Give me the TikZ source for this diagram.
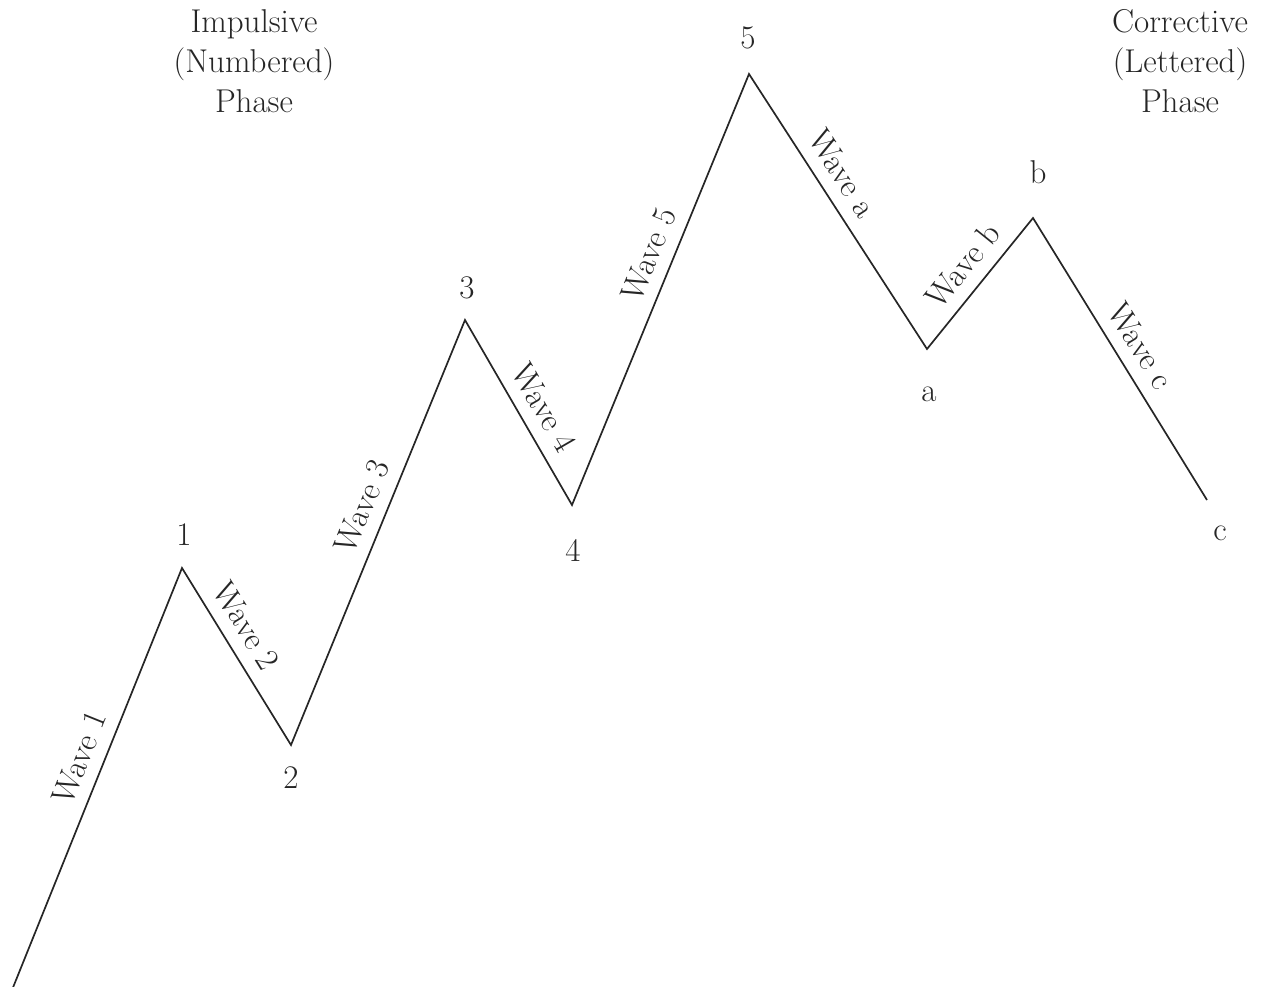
\documentclass[tikz,border=0pt]{standalone}
\begin{document}
\begin{tikzpicture}[x=1pt,y=-1pt,
  wave/.style={draw=black!85, line width=1.7pt, line join=miter},
  lbl/.style={font=\fontsize{33}{40}\selectfont, inner sep=0pt, text=black!85},
  wl/.style={lbl, sloped, above=13pt},
  title/.style={lbl, align=center, anchor=base}]
\useasboundingbox (0,0) rectangle (1272,987);
\coordinate (s) at (12,990);
\coordinate (p1) at (182,568);
\coordinate (p2) at (291,745);
\coordinate (p3) at (465,320);
\coordinate (p4) at (572,505);
\coordinate (p5) at (749,74);
\coordinate (pa) at (927,349);
\coordinate (pb) at (1033,218);
\coordinate (pc) at (1207,500);
\draw[wave] (s) -- (p1) -- (p2) -- (p3) -- (p4) -- (p5) -- (pa) -- (pb) -- (pc);
\path (s) -- node[wl, pos=0.53] (w1) {Wave 1} (p1);
\path (p1) -- node[wl, pos=0.40] (w2) {Wave 2} (p2);
\path (p2) -- node[wl, pos=0.54] (w3) {Wave 3} (p3);
\path (p3) -- node[wl, pos=0.54] (w4) {Wave 4} (p4);
\path (p4) -- node[wl, pos=0.56] (w5) {Wave 5} (p5);
\path (p5) -- node[wl, pos=0.41] (wa) {Wave a} (pa);
\path (pa) -- node[wl, pos=0.52] (wb) {Wave b} (pb);
\path (pb) -- node[wl, pos=0.50] (wc) {Wave c} (pc);
\node[lbl] (l1) at (184,535) {1};
\node[lbl] (l2) at (291,778) {2};
\node[lbl] (l3) at (467,288) {3};
\node[lbl] (l4) at (573,550) {4};
\node[lbl] (l5) at (748,38) {5};
\node[lbl] (la) at (929,394) {a};
\node[lbl] (lb) at (1038,172) {b};
\node[lbl] (lc) at (1220,533) {c};
\node[title] (t1) at (254,113) {Impulsive\\(Numbered)\\Phase};
\node[title] (t2) at (1180,113) {Corrective\\(Lettered)\\Phase};
\end{tikzpicture}
\end{document}
